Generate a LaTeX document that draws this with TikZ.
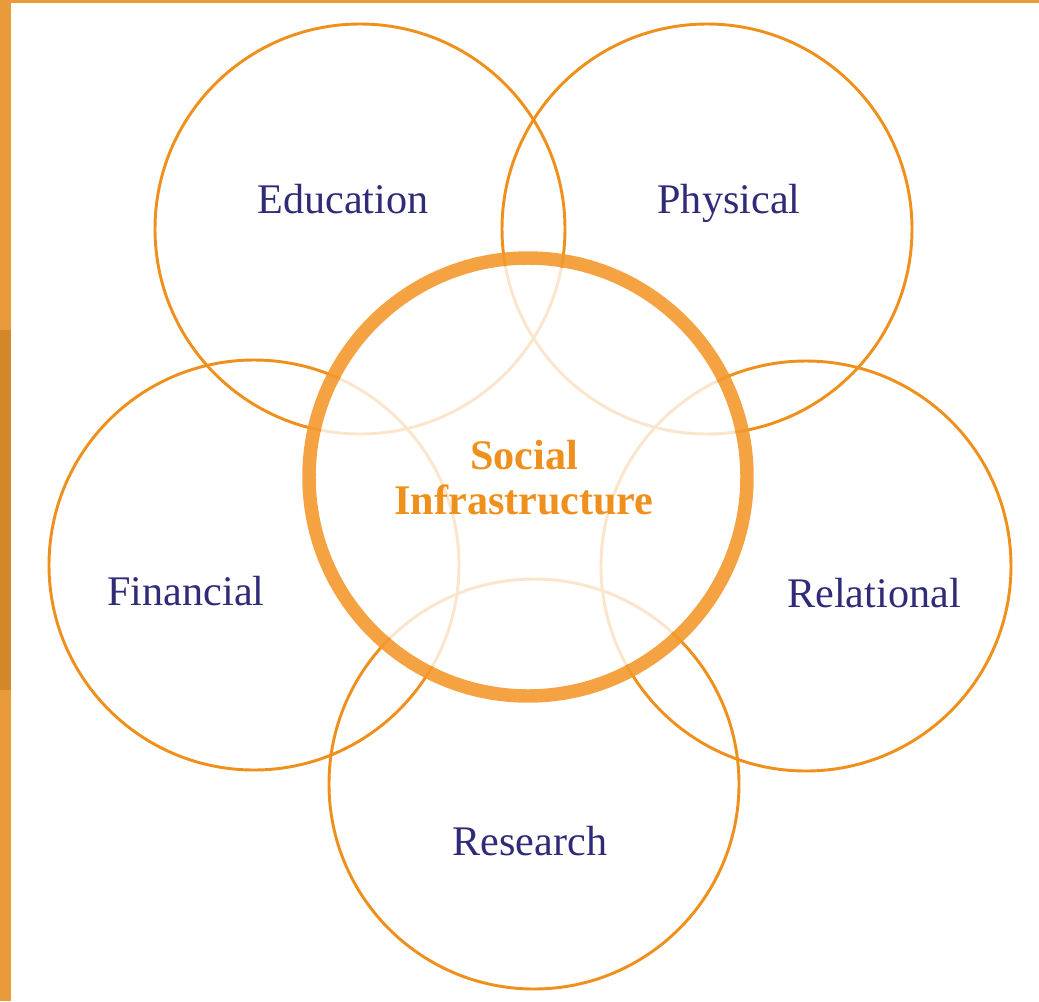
\documentclass[tikz,border=0pt]{standalone}
\usepackage{fontspec}
\setmainfont{Liberation Serif}
\definecolor{ringorange}{HTML}{F49A2E}
\definecolor{lineorange}{HTML}{F0901C}
\definecolor{edgeorange}{HTML}{E99B3C}
\definecolor{edgedark}{HTML}{D3862A}
\definecolor{labelnavy}{HTML}{2F2B78}
\begin{document}
\begin{tikzpicture}[x=0.03cm,y=-0.03cm,
  petal/.style={draw=lineorange,line width=2.5pt},
  petallabel/.style={anchor=base,text=labelnavy,font=\fontsize{36}{40}\selectfont},
  hublabel/.style={anchor=base,text=lineorange,font=\bfseries\fontsize{36}{38}\selectfont}]
\useasboundingbox (0,0) rectangle (1039,1001);
\fill[white] (0,0) rectangle (1039,1001);
% frame strips
\fill[edgeorange] (0,0) rectangle (11,1001);
\fill[edgedark] (0,330) rectangle (11,690);
\fill[edgeorange] (0,0) rectangle (1039,3);
% outer circles
\coordinate (cedu) at (360,229);
\coordinate (cphy) at (707,229);
\coordinate (cfin) at (254,565);
\coordinate (crel) at (806,566);
\coordinate (cres) at (534,784);
\coordinate (chub) at (528,477);
\draw[petal] (cedu) circle (205);
\draw[petal] (cphy) circle (205);
\draw[petal] (cfin) circle (205);
\draw[petal] (crel) circle (205);
\draw[petal] (cres) circle (205);
% veil over the hub
\fill[white,opacity=0.78] (chub) circle (212);
% hub ring
\draw[ringorange,opacity=0.9,line width=11.5pt] (chub) circle (219);
% labels
\node[petallabel] (edu) at (343,213) {Education};
\node[petallabel] (phy) at (729,213) {Physical};
\node[petallabel] (fin) at (186,605) {Financial};
\node[petallabel] (rel) at (874,607) {Relational};
\node[petallabel] (res) at (530,855) {Research};
\node[hublabel] (hub1) at (524,469) {Social};
\node[hublabel] (hub2) at (524,514) {Infrastructure};
\end{tikzpicture}
\end{document}
